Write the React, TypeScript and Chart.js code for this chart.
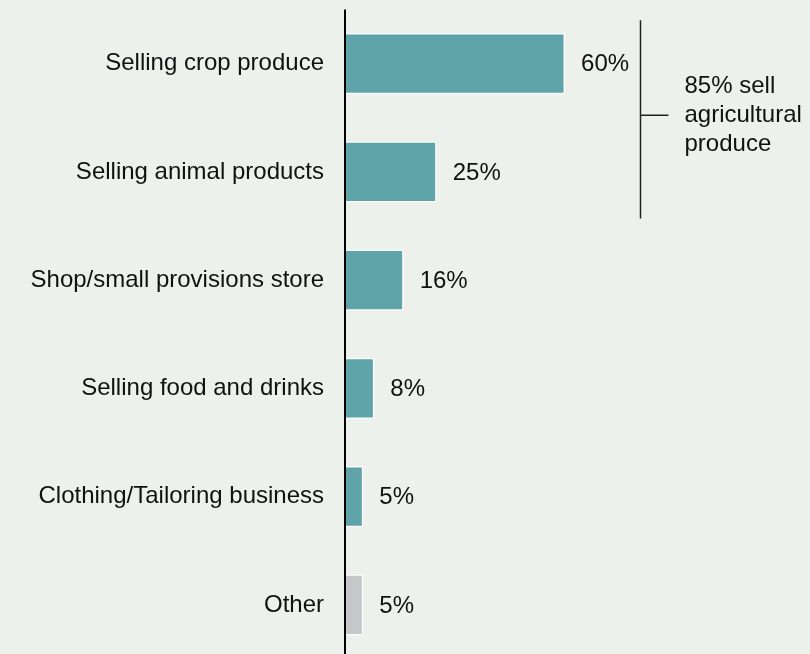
import React, { useEffect, useRef } from "react";
import { Chart, registerables } from "chart.js";

Chart.register(...registerables);

const categories = [
  "Selling crop produce",
  "Selling animal products",
  "Shop/small provisions store",
  "Selling food and drinks",
  "Clothing/Tailoring business",
  "Other",
];
const values = [60, 25, 16, 8, 5, 5];
const valueLabels = ["60%", "25%", "16%", "8%", "5%", "5%"];
const barColors = ["#5FA4A9", "#5FA4A9", "#5FA4A9", "#5FA4A9", "#5FA4A9", "#C6C7C8"];
const bracketLines = ["85% sell", "agricultural", "produce"];
const bracketFrom = 0;
const bracketTo = 1;
const bracketValue = 80.4;

const FONT = "'Liberation Sans', Arial, Helvetica, sans-serif";

const annotations = {
  id: "annotations",
  afterDatasetsDraw(chart: any) {
    const ctx = chart.ctx;
    const area = chart.chartArea;
    const meta = chart.getDatasetMeta(0);
    ctx.save();
    // axis line on top of bars
    ctx.strokeStyle = "#000000";
    ctx.lineWidth = 2;
    ctx.beginPath();
    ctx.moveTo(area.left, area.top);
    ctx.lineTo(area.left, chart.height);
    ctx.stroke();

    ctx.fillStyle = "#111111";
    ctx.font = `24px ${FONT}`;
    ctx.textBaseline = "middle";
    ctx.textAlign = "left";
    meta.data.forEach((bar: any, i: number) => {
      ctx.fillText(valueLabels[i], bar.x + 16, bar.y + 1);
    });
    // bracket
    const ys = chart.scales.y;
    const xs = chart.scales.x;
    const spacing = ys.getPixelForValue(1) - ys.getPixelForValue(0);
    const top = ys.getPixelForValue(bracketFrom) - 0.4 * spacing;
    const bottom = ys.getPixelForValue(bracketTo) + 0.43 * spacing;
    const bx = Math.round(xs.getPixelForValue(bracketValue)) + 0.5;
    const mid = (top + bottom) / 2 - 4;
    ctx.strokeStyle = "#222222";
    ctx.lineWidth = 1.5;
    ctx.beginPath();
    ctx.moveTo(bx, top);
    ctx.lineTo(bx, bottom);
    ctx.moveTo(bx, mid);
    ctx.lineTo(bx + 28, mid);
    ctx.stroke();
    const lh = 29;
    bracketLines.forEach((t, i) => {
      ctx.fillText(t, bx + 44, mid + (i - 1) * lh);
    });
    ctx.restore();
  },
};

export default function App() {
  const ref = useRef<HTMLCanvasElement>(null);
  useEffect(() => {
    document.body.style.margin = "0";
    document.body.style.overflow = "hidden";
    document.body.style.background = "#ECF1EC";
    const chart = new Chart(ref.current!, {
      type: "bar",
      data: {
        labels: categories,
        datasets: [
          {
            data: values,
            backgroundColor: barColors,
            borderColor: "#FFFFFF",
            borderWidth: 1.5,
            borderSkipped: "start",
            categoryPercentage: 1,
            barPercentage: 0.565,
          },
        ],
      },
      plugins: [annotations],
      options: {
        indexAxis: "y",
        animation: false,
        responsive: false,
        devicePixelRatio: 1,
        layout: { padding: { top: 9.5, right: 0, bottom: 0, left: 0 } },
        plugins: { legend: { display: false }, tooltip: { enabled: false } },
        scales: {
          x: { display: false, min: 0, max: 126.8 },
          y: {
            afterFit(scale: any) {
              scale.width = 345;
              scale.paddingTop = 0;
              scale.paddingBottom = 0;
            },
            grid: { display: false, drawTicks: false },
            border: { display: false },
            ticks: {
              padding: 21,
              color: "#111111",
              font: { family: FONT, size: 24 },
            },
          },
        },
      },
    });
    return () => chart.destroy();
  }, []);
  return (
    <div style={{ position: "fixed", left: 0, top: 0, width: 810, height: 654, overflow: "hidden", background: "#ECF1EC" }}>
      <canvas ref={ref} width={810} height={659} style={{ display: "block" }} />
    </div>
  );
}
